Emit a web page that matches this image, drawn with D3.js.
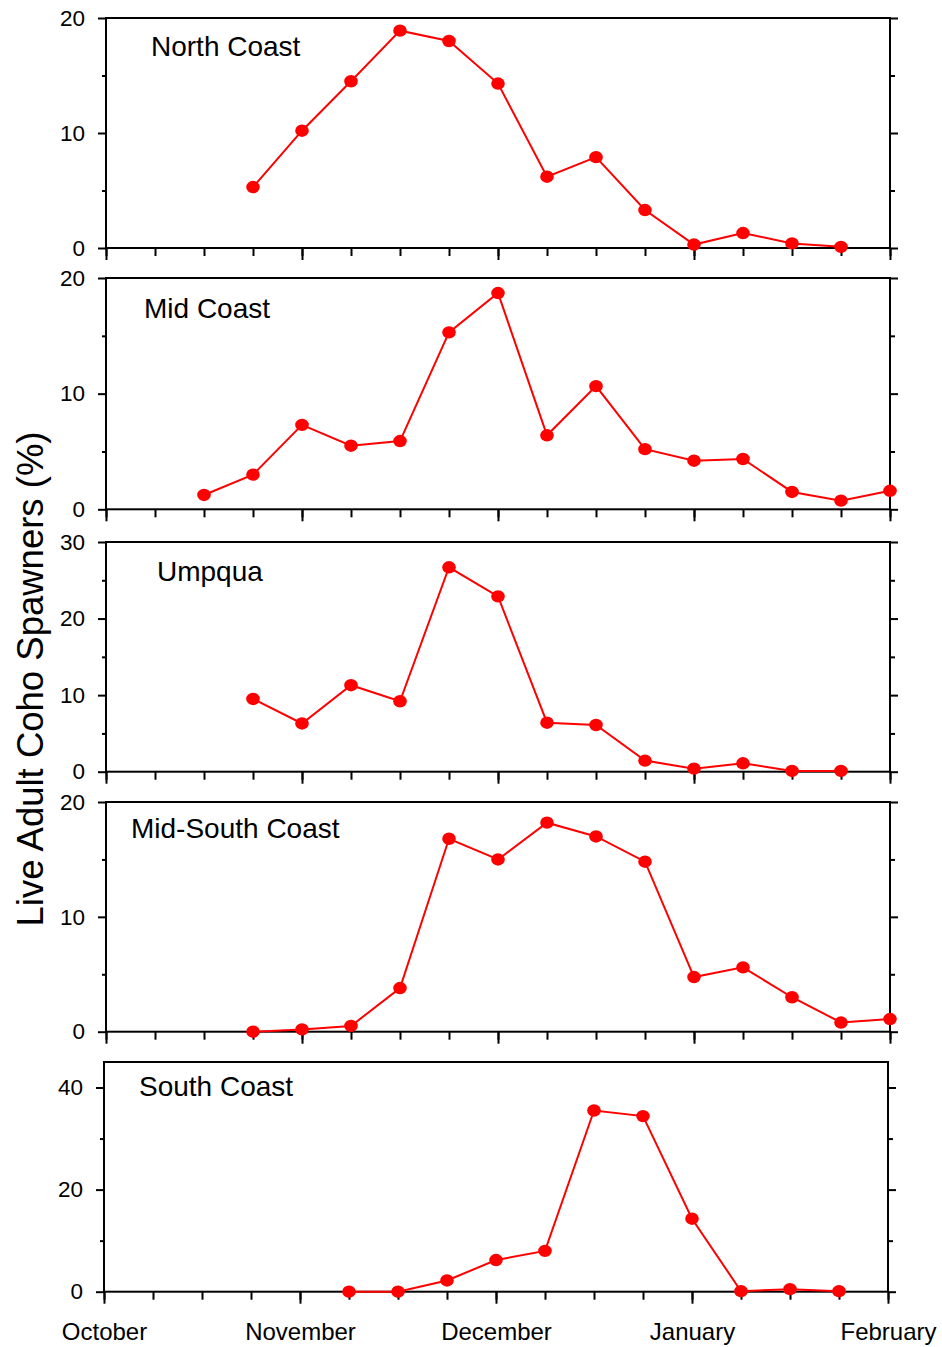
<!DOCTYPE html>
<html>
<head>
<meta charset="utf-8">
<script src="https://cdn.jsdelivr.net/npm/d3@7"></script>
<style>
  body { margin: 0; background: #fff; }
  svg { font-family: "Liberation Sans", Arial, sans-serif; }
</style>
</head>
<body>
<div id="chart"></div>
<script>
// month labels on the x axis, each month split in 4 weekly steps
var months = ["October", "November", "December", "January", "February"];
var weeksPerMonth = 4;

// % of live adult coho spawners per week (null = no survey)
var northCoast = [null, null, null, 5.3, 10.2, 14.5, 18.9, 18.0, 14.3, 6.2, 7.9, 3.3, 0.3, 1.3, 0.4, 0.1, null];
var midCoast   = [null, null, 1.24, 3.0, 7.3, 5.5, 5.9, 15.3, 18.7, 6.4, 10.65, 5.2, 4.2, 4.35, 1.5, 0.75, 1.6];
var umpqua     = [null, null, null, 9.5, 6.3, 11.3, 9.2, 26.7, 22.9, 6.4, 6.1, 1.45, 0.4, 1.1, 0.1, 0.1, null];
var midSouth   = [null, null, null, 0, 0.2, 0.5, 3.8, 16.8, 15.0, 18.2, 17.0, 14.8, 4.76, 5.6, 3.0, 0.8, 1.1];
var southCoast = [null, null, null, null, null, 0, 0, 2.2, 6.2, 8.0, 35.5, 34.4, 14.3, 0.1, 0.5, 0.1, null];

var regionNames = ["North Coast", "Mid Coast", "Umpqua", "Mid-South Coast", "South Coast"];
var regionValues = [northCoast, midCoast, umpqua, midSouth, southCoast];
var yMax = [20, 20, 30, 20, 45];
var yMajor = [[0, 10, 20], [0, 10, 20], [0, 10, 20, 30], [0, 10, 20], [0, 20, 40]];
var yMinor = [[5, 15], [5, 15], [5, 15, 25], [5, 15], [10, 30]];

// panel boxes in page pixels
var layout = [
  {top: 18,   bottom: 248,    left: 106, right: 890, tx: 151, ty: 56},
  {top: 278,  bottom: 509.3,  left: 106, right: 890, tx: 144, ty: 318},
  {top: 542,  bottom: 771.7,  left: 106, right: 890, tx: 157, ty: 581},
  {top: 802,  bottom: 1031.7, left: 106, right: 890, tx: 131, ty: 838},
  {top: 1062, bottom: 1291.7, left: 104, right: 888, tx: 139, ty: 1096}
];

var width = 942, height = 1347;
var nWeeks = (months.length - 1) * weeksPerMonth;

var svg = d3.select("#chart")
  .append("svg")
  .attr("width", width)
  .attr("height", height);

regionNames.forEach(function(name, i) {
  var L = layout[i];
  var values = regionValues[i];

  var x = d3.scaleLinear().domain([0, nWeeks]).range([L.left, L.right]);
  var y = d3.scaleLinear().domain([0, yMax[i]]).range([L.bottom, L.top]);

  var g = svg.append("g");

  // frame
  g.append("rect")
    .attr("x", L.left).attr("y", L.top)
    .attr("width", L.right - L.left).attr("height", L.bottom - L.top)
    .style("fill", "none").style("stroke", "#000").style("stroke-width", 2);

  // left axis: minor then major with labels
  g.append("g").attr("transform", "translate(" + L.left + ",0)")
    .call(d3.axisLeft(y).tickValues(yMinor[i]).tickSize(4).tickFormat(""));
  g.append("g").attr("transform", "translate(" + L.left + ",0)")
    .attr("font-size", null)
    .call(d3.axisLeft(y).tickValues(yMajor[i]).tickSize(8).tickPadding(13).tickFormat(d3.format("d")))
    .selectAll("text").attr("font-size", "22.5px").style("font-size", "22.5px").style("fill", "#000");

  // right axis
  g.append("g").attr("transform", "translate(" + L.right + ",0)")
    .call(d3.axisRight(y).tickValues(yMinor[i]).tickSize(5).tickFormat(""));
  g.append("g").attr("transform", "translate(" + L.right + ",0)")
    .call(d3.axisRight(y).tickValues(yMajor[i]).tickSize(8).tickFormat(""));

  // bottom axis: weekly ticks, longer month ticks
  var monthTicks = d3.range(0, nWeeks + 1, weeksPerMonth);
  g.append("g").attr("transform", "translate(0," + L.bottom + ")")
    .call(d3.axisBottom(x).tickValues(d3.range(0, nWeeks + 1)).tickSize(8).tickFormat(""));
  var bx = g.append("g").attr("transform", "translate(0," + L.bottom + ")")
    .call(d3.axisBottom(x).tickValues(monthTicks).tickSize(12).tickPadding(19)
      .tickFormat(function(d, k) { return i === regionNames.length - 1 ? months[k] : ""; }));
  bx.selectAll("text").style("font-size", "24px").style("fill", "#000");

  g.selectAll(".domain").remove();
  g.selectAll(".tick line").style("stroke", "#000").style("stroke-width", 2);

  // series
  var pts = values.map(function(v, k) { return {week: k, value: v}; })
    .filter(function(d) { return d.value !== null; });

  var line = d3.line()
    .x(function(d) { return x(d.week); })
    .y(function(d) { return y(d.value); });

  g.append("path")
    .datum(pts)
    .attr("d", line)
    .style("fill", "none")
    .style("stroke", "#ff0000")
    .style("stroke-width", 2);

  g.selectAll(".dot")
    .data(pts)
    .enter()
    .append("ellipse")
    .attr("class", "dot")
    .attr("cx", function(d) { return x(d.week); })
    .attr("cy", function(d) { return y(d.value); })
    .attr("rx", 6.8)
    .attr("ry", 6.2)
    .style("fill", "#ff0000");

  // region title
  g.append("text")
    .attr("x", L.tx).attr("y", L.ty)
    .style("font-size", "28px")
    .style("fill", "#000")
    .text(name);
});

// y axis title
svg.append("text")
  .attr("transform", "translate(43,679) rotate(-90)")
  .style("text-anchor", "middle")
  .style("font-size", "36.5px")
  .style("fill", "#000")
  .text("Live Adult Coho Spawners (%)");
</script>
</body>
</html>
